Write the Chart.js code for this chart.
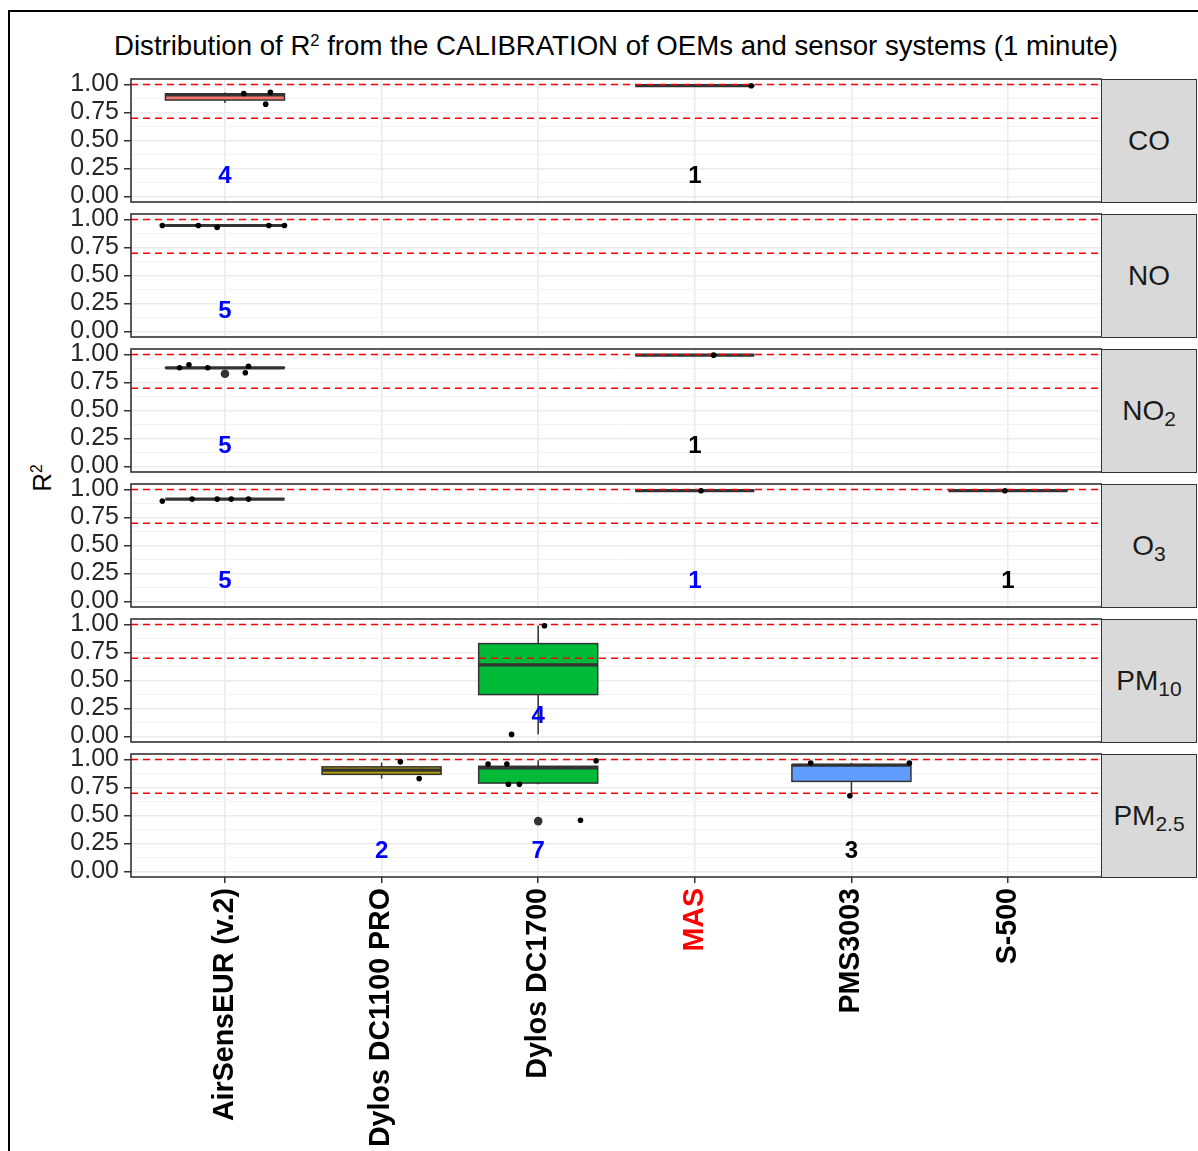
<!DOCTYPE html>
<html>
<head>
<meta charset="utf-8">
<script src="https://cdn.jsdelivr.net/npm/chart.js@4.4.0/dist/chart.umd.min.js"></script>
<style>
html,body{margin:0;padding:0;background:#fff;}
body{width:1198px;height:1151px;overflow:hidden;position:relative;font-family:"Liberation Sans",Arial,sans-serif;}
#frame{position:absolute;left:8px;top:10px;width:1300px;height:1300px;border:2px solid #000;box-sizing:border-box;}
#title{position:absolute;left:0;width:1232px;top:30px;text-align:center;font-size:27.6px;line-height:32px;color:#000;white-space:nowrap;}
#title sup{font-size:0.6em;position:relative;top:-0.55em;vertical-align:baseline;line-height:0;}
#ytitle{position:absolute;left:42px;top:478px;transform:translate(-50%,-50%) rotate(-90deg);font-size:26px;color:#000;white-space:nowrap;}
#ytitle sup{font-size:0.6em;position:relative;top:-0.55em;vertical-align:baseline;line-height:0;}
.strip{position:absolute;left:1101px;width:96px;height:124px;background:#D9D9D9;border:1.6px solid #333;box-sizing:border-box;display:flex;align-items:center;justify-content:center;font-size:28px;color:#1a1a1a;}
.strip span{display:inline-block;white-space:nowrap;}
.strip sub{font-size:0.75em;position:relative;top:0.3em;vertical-align:baseline;line-height:0;}
.pw{position:absolute;left:0;width:1102px;}
</style>
</head>
<body>
<div id="frame"></div>
<div id="title">Distribution of R<sup>2</sup> from the CALIBRATION of OEMs and sensor systems (1 minute)</div>
<div id="ytitle">R<sup>2</sup></div>
<script>
// ---------------- data ----------------
const categories = ["AirSensEUR (v.2)", "Dylos DC1100 PRO", "Dylos DC1700", "MAS", "PMS3003", "S-500"];
const categoryLabelColors = ["#000000", "#000000", "#000000", "#FF0000", "#000000", "#000000"];
const boxFills = ["#F8766D", "#B79F00", "#00BA38", "#00BFC4", "#619CFF", "#F564E3"];
const pollutants = ["CO", "NO", "NO2", "O3", "PM10", "PM2.5"];
const pollutantLabels = ["CO", "NO", "NO<sub>2</sub>", "O<sub>3</sub>", "PM<sub>10</sub>", "PM<sub>2.5</sub>"];
const yTicks = [0, 0.25, 0.5, 0.75, 1];
const refLines = [1.0, 0.7];
const countLevel = 0.18;

// box statistics: [category #, lower whisker, Q1, median, Q3, upper whisker]
const boxCO   = [[1, 0.835, 0.862, 0.908, 0.918, 0.93], [4, 0.99, 0.99, 0.99, 0.99, 0.99]];
const boxNO   = [[1, 0.946, 0.946, 0.947, 0.948, 0.948]];
const boxNO2  = [[1, 0.882, 0.882, 0.882, 0.883, 0.883], [4, 0.995, 0.995, 0.995, 0.995, 0.995]];
const boxO3   = [[1, 0.915, 0.915, 0.915, 0.915, 0.915], [4, 0.99, 0.99, 0.99, 0.99, 0.99], [6, 0.99, 0.99, 0.99, 0.99, 0.99]];
const boxPM10 = [[3, 0.02, 0.374, 0.64, 0.83, 0.99]];
const boxPM25 = [[2, 0.83, 0.868, 0.905, 0.935, 0.975], [3, 0.78, 0.79, 0.925, 0.94, 0.995], [5, 0.677, 0.805, 0.95, 0.955, 0.97]];

// boxplot outliers: [category #, R2]
const outCO = [], outNO = [], outO3 = [], outPM10 = [];
const outNO2  = [[1, 0.829]];
const outPM25 = [[3, 0.45]];

// jittered observations: [category #, jitter, R2]
const ptsCO   = [[1, 0.12, 0.92], [1, 0.29, 0.93], [1, 0.26, 0.825], [4, 0.36, 0.99]];
const ptsNO   = [[1, -0.40, 0.947], [1, -0.17, 0.947], [1, -0.05, 0.93], [1, 0.28, 0.947], [1, 0.38, 0.947]];
const ptsNO2  = [[1, -0.29, 0.882], [1, -0.23, 0.909], [1, -0.11, 0.882], [1, 0.13, 0.838], [1, 0.15, 0.896], [4, 0.12, 0.995]];
const ptsO3   = [[1, -0.40, 0.897], [1, -0.21, 0.915], [1, -0.05, 0.915], [1, 0.04, 0.915], [1, 0.15, 0.915], [4, 0.04, 0.99], [6, -0.02, 0.99]];
const ptsPM10 = [[3, 0.04, 0.99], [3, -0.17, 0.018]];
const ptsPM25 = [[2, 0.12, 0.98], [2, 0.24, 0.83], [3, -0.32, 0.96], [3, -0.20, 0.96], [3, -0.19, 0.78], [3, -0.12, 0.78], [3, 0.37, 0.99], [3, 0.27, 0.457], [5, -0.26, 0.97], [5, 0.37, 0.97], [5, -0.01, 0.677]];

// number of systems: [category #, n, highlighted]
const nCO   = [[1, 4, true], [4, 1, false]];
const nNO   = [[1, 5, true]];
const nNO2  = [[1, 5, true], [4, 1, false]];
const nO3   = [[1, 5, true], [4, 1, true], [6, 1, false]];
const nPM10 = [[3, 4, true]];
const nPM25 = [[2, 2, true], [3, 7, true], [5, 3, false]];

const panelBoxes = [boxCO, boxNO, boxNO2, boxO3, boxPM10, boxPM25];
const panelOutliers = [outCO, outNO, outNO2, outO3, outPM10, outPM25];
const panelPoints = [ptsCO, ptsNO, ptsNO2, ptsO3, ptsPM10, ptsPM25];
const panelCounts = [nCO, nNO, nNO2, nO3, nPM10, nPM25];

// ---------------- layout ----------------
const FONT = "'Liberation Sans', Arial, Helvetica, sans-serif";
const PANEL_TOPS = [79, 214, 349, 484, 619, 754];
const PLOT_H = 123;
const PLOT_LEFT = 131;
const PAD = 24;
const X_MIN = 0.4, X_MAX = 6.6;
const Y_MIN = -0.05, Y_MAX = 1.05;
const BOX_HALF = 0.38;

const minorTicks = yTicks.slice(1).map((v, i) => (v + yTicks[i]) / 2);
const allYTicks = yTicks.concat(minorTicks).sort((a, b) => a - b);
const isMajor = v => yTicks.some(t => Math.abs(t - v) < 1e-9);

const boxPlugin = {
  id: 'boxes',
  beforeDatasetsDraw(chart) {
    const {ctx, chartArea, scales: {x, y}} = chart;
    const boxes = chart.options.plugins.boxes.data;
    ctx.save();
    ctx.beginPath();
    ctx.rect(chartArea.left, chartArea.top, chartArea.right - chartArea.left, chartArea.bottom - chartArea.top);
    ctx.clip();
    boxes.forEach(b => {
      const [cat, lo, q1, med, q3, hi] = b;
      const xc = x.getPixelForValue(cat);
      const xl = x.getPixelForValue(cat - BOX_HALF);
      const xr = x.getPixelForValue(cat + BOX_HALF);
      ctx.strokeStyle = '#333333';
      ctx.lineWidth = 1.5;
      ctx.beginPath();
      ctx.moveTo(xc, y.getPixelForValue(lo)); ctx.lineTo(xc, y.getPixelForValue(q1));
      ctx.moveTo(xc, y.getPixelForValue(q3)); ctx.lineTo(xc, y.getPixelForValue(hi));
      ctx.stroke();
      const yt = y.getPixelForValue(q3), yb = y.getPixelForValue(q1);
      ctx.fillStyle = boxFills[cat - 1];
      ctx.fillRect(xl, yt, xr - xl, yb - yt);
      ctx.strokeRect(xl, yt, xr - xl, yb - yt);
      ctx.lineWidth = 3.2;
      ctx.beginPath();
      const ym = y.getPixelForValue(med);
      ctx.moveTo(xl, ym); ctx.lineTo(xr, ym);
      ctx.stroke();
    });
    ctx.restore();
  },
  afterDatasetsDraw(chart) {
    const {ctx, chartArea, scales: {x, y}} = chart;
    const counts = chart.options.plugins.boxes.counts;
    ctx.save();
    ctx.font = 'bold 24px ' + FONT;
    ctx.textAlign = 'center';
    ctx.textBaseline = 'middle';
    counts.forEach(c => {
      ctx.fillStyle = c[2] ? '#0000FF' : '#000000';
      ctx.fillText(String(c[1]), x.getPixelForValue(c[0]), y.getPixelForValue(countLevel));
    });
    ctx.strokeStyle = '#333333';
    ctx.lineWidth = 1.6;
    ctx.strokeRect(chartArea.left, chartArea.top, chartArea.right - chartArea.left, chartArea.bottom - chartArea.top);
    ctx.restore();
  }
};

function buildPanel(idx) {
  const isLast = idx === pollutants.length - 1;
  const top = PANEL_TOPS[idx];
  const h = isLast ? (1151 - (top - PAD)) : (PLOT_H + 2 * PAD);
  const wrap = document.createElement('div');
  wrap.className = 'pw';
  wrap.style.top = (top - PAD) + 'px';
  wrap.style.height = h + 'px';
  const cv = document.createElement('canvas');
  cv.width = 1102; cv.height = h;
  cv.style.width = '1102px'; cv.style.height = h + 'px';
  wrap.appendChild(cv);
  document.body.appendChild(wrap);

  const strip = document.createElement('div');
  strip.className = 'strip';
  strip.style.top = top + 'px';
  strip.innerHTML = '<span>' + pollutantLabels[idx] + '</span>';
  document.body.appendChild(strip);

  const datasets = [
    {
      label: 'observations',
      data: panelPoints[idx].map(p => ({x: p[0] + p[1], y: p[2]})),
      pointRadius: 2.8, pointBackgroundColor: '#000', pointBorderWidth: 0, showLine: false
    },
    {
      label: 'outliers',
      data: panelOutliers[idx].map(p => ({x: p[0], y: p[1]})),
      pointRadius: 4.3, pointBackgroundColor: '#333', pointBorderWidth: 0, showLine: false
    }
  ];
  refLines.forEach(v => datasets.push({
    type: 'line', label: 'ref ' + v,
    data: [{x: X_MIN, y: v}, {x: X_MAX, y: v}],
    borderColor: '#FF0000', borderWidth: 1.5, borderDash: [7, 5], pointRadius: 0, fill: false
  }));

  new Chart(cv, {
    type: 'scatter',
    data: {datasets},
    plugins: [boxPlugin],
    options: {
      responsive: false,
      animation: false,
      devicePixelRatio: 1,
      layout: {autoPadding: false, padding: {top: PAD, bottom: isLast ? 0 : PAD, left: 0, right: 0}},
      plugins: {
        legend: {display: false},
        tooltip: {enabled: false},
        boxes: {data: panelBoxes[idx], counts: panelCounts[idx]}
      },
      scales: {
        x: {
          type: 'linear', min: X_MIN, max: X_MAX,
          afterBuildTicks: s => { s.ticks = categories.map((c, i) => ({value: i + 1})); },
          afterFit: s => { s.height = isLast ? (h - PAD - PLOT_H) : 0; },
          ticks: {
            display: isLast, autoSkip: false, maxRotation: 90, minRotation: 90, padding: 5,
            font: {size: 28.6, weight: 'bold', family: FONT},
            color: c => categoryLabelColors[c.index] || '#000',
            callback: (v, i) => categories[i]
          },
          grid: {color: '#EBEBEB', lineWidth: 1.5, drawTicks: isLast, tickLength: 6, tickColor: '#333', tickWidth: 1.5},
          border: {display: false}
        },
        y: {
          type: 'linear', min: Y_MIN, max: Y_MAX,
          afterBuildTicks: s => { s.ticks = allYTicks.map(v => ({value: v})); },
          afterFit: s => { s.width = PLOT_LEFT; },
          ticks: {
            autoSkip: false, padding: 5, color: '#262626',
            font: {size: 25, family: FONT},
            callback: v => isMajor(v) ? v.toFixed(2) : ''
          },
          grid: {
            color: c => (c.tick && isMajor(c.tick.value)) ? '#EBEBEB' : '#F3F3F3',
            lineWidth: c => (c.tick && isMajor(c.tick.value)) ? 1.5 : 1,
            tickLength: 7,
            tickColor: c => (c.tick && isMajor(c.tick.value)) ? '#333' : 'rgba(0,0,0,0)',
            tickWidth: 1.5
          },
          border: {display: false}
        }
      }
    }
  });
}

pollutants.forEach((p, i) => buildPanel(i));
</script>
</body>
</html>
